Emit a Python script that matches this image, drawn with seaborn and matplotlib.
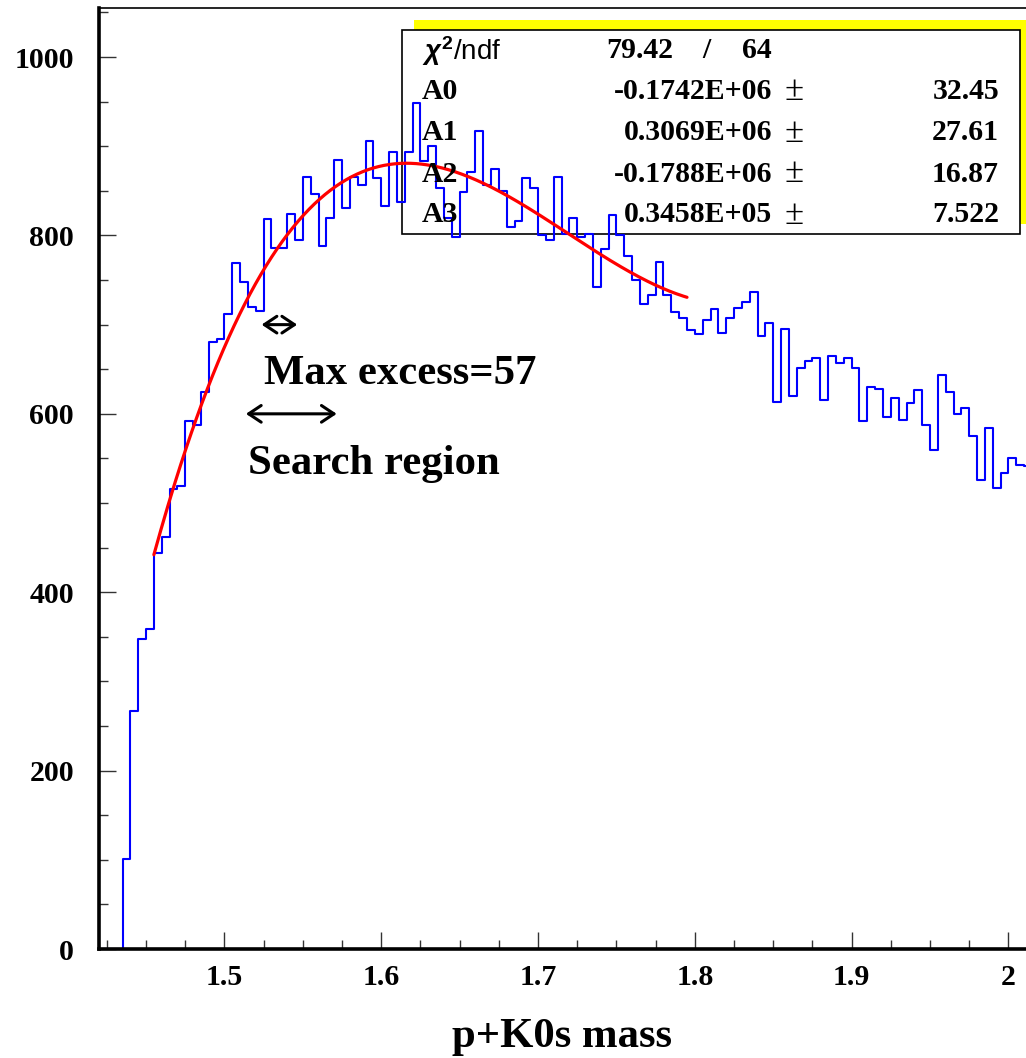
import numpy as np
import pandas as pd
import matplotlib
matplotlib.use('Agg')
import matplotlib.pyplot as plt
from matplotlib.patches import Rectangle
from matplotlib.ticker import MultipleLocator
import seaborn as sns

sns.set_style('ticks')
plt.rcParams['font.family'] = ['Liberation Serif', 'DejaVu Serif']
plt.rcParams['font.weight'] = 'bold'
plt.rcParams['axes.labelweight'] = 'bold'
plt.rcParams['text.color'] = 'black'
plt.rcParams['axes.labelcolor'] = 'black'
plt.rcParams['xtick.color'] = 'black'
plt.rcParams['ytick.color'] = 'black'
plt.rcParams['mathtext.fontset'] = 'custom'
plt.rcParams['mathtext.rm'] = 'Liberation Sans'
plt.rcParams['mathtext.it'] = 'Liberation Sans:italic'

# histogram: p+K0s invariant mass, 5 MeV bins starting at 1.420
first_edge = 1.42
bin_width = 0.005
counts = [0, 0, 0,
          101, 267, 347, 359, 444, 462, 516, 519, 592, 587,
          624, 681, 684, 712, 769, 748, 720, 715, 818, 786,
          786, 824, 795, 866, 846, 788, 819, 885, 831, 865,
          856, 906, 864, 833, 894, 838, 894, 948, 884, 900,
          853, 819, 798, 849, 871, 917, 856, 874, 850, 809,
          816, 864, 853, 801, 795, 865, 802, 820, 798, 802,
          742, 785, 823, 800, 777, 750, 723, 733, 770, 733,
          714, 707, 694, 690, 705, 718, 691, 707, 719, 725,
          737, 687, 702, 613, 695, 620, 651, 659, 663, 616,
          665, 657, 663, 651, 592, 630, 628, 597, 618, 593,
          612, 627, 588, 559, 644, 624, 600, 607, 575, 526,
          584, 517, 534, 551, 543, 542]

# cubic fit range (68 bins, ndf = 64)
fit_lo, fit_hi = 1.455, 1.795

# stats box
chi2_text = '79.42'
ndf_text = '64'
par_names = ['A0', 'A1', 'A2', 'A3']
par_values = ['-0.1742E+06', '0.3069E+06', '-0.1788E+06', '0.3458E+05']
par_errors = ['32.45', '27.61', '16.87', '7.522']

# annotations
search_region = (1.5137, 1.5716)
excess_window = (1.5237, 1.5464)

x_ticks = [1.5, 1.6, 1.7, 1.8, 1.9, 2.0]
x_ticklabels = ['1.5', '1.6', '1.7', '1.8', '1.9', '2']
y_ticks = [0, 200, 400, 600, 800, 1000]

counts = np.array(counts, dtype=float)
edges = first_edge + bin_width * np.arange(len(counts) + 1)
centers = edges[:-1] + bin_width / 2
hist_df = pd.DataFrame({'mass': centers, 'n': counts})

sel = (centers > fit_lo) & (centers < fit_hi)
coef = np.polyfit(centers[sel], counts[sel], 3, w=1 / np.sqrt(counts[sel]))
x_fit = np.linspace(fit_lo, fit_hi, 300)
fit_df = pd.DataFrame({'mass': x_fit, 'n': np.polyval(coef, x_fit)})

W, H = 1026, 1058
fig = plt.figure(figsize=(W / 100, H / 100), dpi=100)
ax = fig.add_axes([99 / W, 1 - 949 / H, 1 - 99 / W, (949 - 8) / H])


def fpx(x, y):
    return x / W, 1 - y / H


# stats box (yellow shadow + white box), below the curves
ax.add_patch(Rectangle(fpx(414, 224), 618 / W, 204 / H, transform=fig.transFigure,
                       facecolor='#ffff00', edgecolor='none', zorder=0.5, clip_on=False))
ax.add_patch(Rectangle(fpx(402, 234), 618 / W, 204 / H, transform=fig.transFigure,
                       facecolor='white', edgecolor='black', lw=1.2, zorder=0.6, clip_on=False))

sns.histplot(data=hist_df, x='mass', weights='n', bins=edges.tolist(), element='step',
             fill=False, color='#0000ff', linewidth=1.5, ax=ax, zorder=2)
sns.lineplot(data=fit_df, x='mass', y='n', color='#ff0000', linewidth=2.3, sort=False,
             ax=ax, zorder=3)

ax.set_xlim(1.42, 2.0112)
ax.set_ylim(0, 1055)
ax.set_xticks(x_ticks)
ax.set_xticklabels(x_ticklabels)
ax.set_yticks(y_ticks)
ax.xaxis.set_minor_locator(MultipleLocator(0.025))
ax.yaxis.set_minor_locator(MultipleLocator(50))
ax.tick_params(which='both', direction='in', top=False, right=False, width=1, color='#333333')
ax.tick_params(which='major', length=12.5, labelsize=21.5)
ax.tick_params(which='minor', length=6.5)
ax.tick_params(axis='y', pad=18)
ax.tick_params(axis='x', pad=11)
ax.set_ylabel('')
ax.set_xlabel('p+K0s mass', fontsize=30.8, fontweight='bold', labelpad=19)

ax.spines['left'].set_linewidth(2.6)
ax.spines['bottom'].set_linewidth(2.6)
ax.spines['top'].set_linewidth(1.2)
ax.spines['right'].set_visible(False)
for s in ax.spines.values():
    s.set_color('black')

# arrows and labels
arrow = dict(arrowstyle='<->,head_length=0.45,head_width=0.3', lw=2.2, color='black',
             shrinkA=0, shrinkB=0, mutation_scale=20)
ax.annotate('', xy=(excess_window[1], 700), xytext=(excess_window[0], 700), arrowprops=arrow)
ax.annotate('', xy=(search_region[1], 600), xytext=(search_region[0], 600), arrowprops=arrow)
ax.text(1.5252, 634, 'Max excess=57', fontsize=30.8, va='baseline', ha='left')
ax.text(1.5152, 533, 'Search region', fontsize=30.8, va='baseline', ha='left')

# stats box text
rows_y = [92, 133, 174, 215]
fig.text(*fpx(422, 51), r'$\chi^{2}$/ndf', fontsize=20, fontweight='normal',
         family=['Liberation Sans', 'DejaVu Sans'], va='center', ha='left')
fig.text(*fpx(640, 51), chi2_text, fontsize=21.4, va='center', ha='center')
fig.text(*fpx(706, 51), '/', fontsize=21.4, va='center', ha='center')
fig.text(*fpx(772, 51), ndf_text, fontsize=21.4, va='center', ha='right')
for name, val, err, yy in zip(par_names, par_values, par_errors, rows_y):
    fig.text(*fpx(422, yy), name, fontsize=21.4, va='center', ha='left')
    fig.text(*fpx(772, yy), val, fontsize=21.4, va='center', ha='right')
    fig.text(*fpx(794, yy), '\u00b1', fontsize=25, fontweight='normal', va='center', ha='center')
    fig.text(*fpx(999, yy), err, fontsize=21.4, va='center', ha='right')

fig.savefig('out.png', dpi=100)
